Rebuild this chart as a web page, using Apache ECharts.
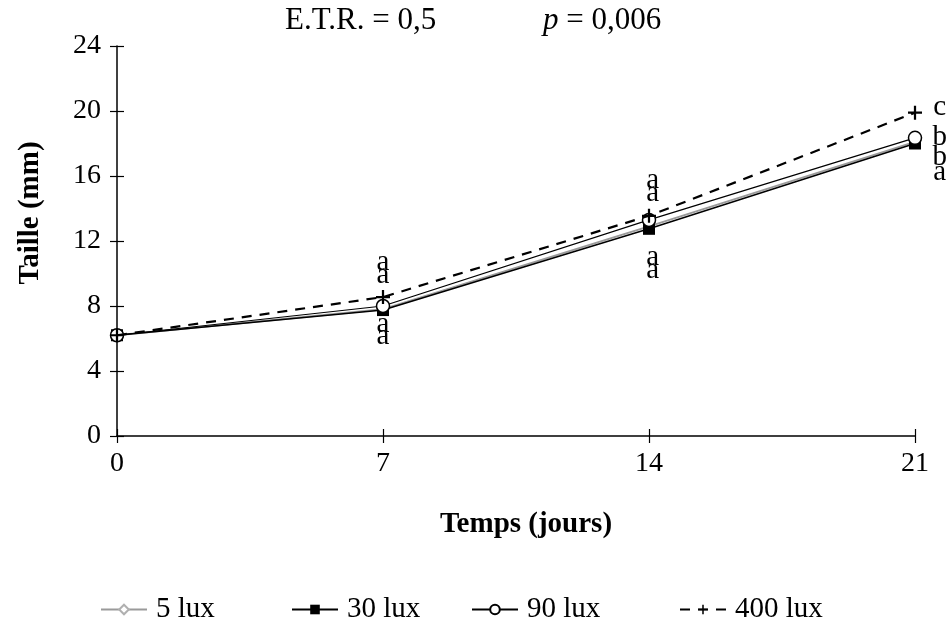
<!DOCTYPE html>
<html><head><meta charset="utf-8">
<script src="https://cdn.jsdelivr.net/npm/echarts@6/dist/echarts.min.js"></script>
<style>html,body{margin:0;padding:0;background:#fff}#c{width:950px;height:627px}</style>
</head><body><div id="c"></div>
<script>
const days = [0, 7, 14, 21];
const yTicks = [0, 4, 8, 12, 16, 20, 24];
const lux5 = [6.2, 7.8, 12.9, 18.1];
const lux30 = [6.2, 7.75, 12.75, 18.0];
const lux90 = [6.2, 8.0, 13.3, 18.35];
const lux400 = [6.2, 8.55, 13.55, 19.9];
// significance letters: [day, size, letter]
const letters = [
  [7, 10.7, 'a'], [7, 9.9, 'a'], [7, 6.85, 'a'], [7, 6.1, 'a'],
  [14.1, 15.75, 'a'], [14.1, 14.95, 'a'], [14.1, 11.0, 'a'], [14.1, 10.2, 'a'],
  [21.65, 20.25, 'c'], [21.65, 18.4, 'b'], [21.65, 17.15, 'b'], [21.65, 16.2, 'a']
];
const F = 'Liberation Serif';
const plus = 'path://M4.2,0H5.8V4.2H10V5.8H5.8V10H4.2V5.8H0V4.2H4.2Z';
const chart = echarts.init(document.getElementById('c'));
const pair = (a) => days.map((d, i) => [d, a[i]]);
function legendAt(name, left) {
  return {data: [name], left: left, top: 590, itemWidth: 46, itemHeight: 12, itemGap: 0,
    textStyle: {fontFamily: F, fontSize: 29, color: '#000', padding: [0, 0, 0, 4]}};
}
chart.setOption({
  animation: false,
  textStyle: {fontFamily: F},
  title: [
    {text: 'E.T.R. = 0,5', left: 280, top: 0, textStyle: {fontFamily: F, fontSize: 31, fontWeight: 'normal', color: '#000'}},
    {text: '{i|p} = 0,006', left: 538, top: 0, textStyle: {fontFamily: F, fontSize: 31, fontWeight: 'normal', color: '#000',
      rich: {i: {fontFamily: F, fontSize: 31, fontStyle: 'italic', color: '#000'}}}}
  ],
  legend: [legendAt('5 lux', 95), legendAt('30 lux', 286), legendAt('90 lux', 466), legendAt('400 lux', 674)],
  grid: {left: 117, right: 35, top: 46, bottom: 191},
  xAxis: [
    {type: 'value', min: 0, max: 21, interval: 7,
     name: 'Temps (jours)', nameLocation: 'middle', nameGap: 74,
     nameTextStyle: {fontFamily: F, fontSize: 29, fontWeight: 'bold', color: '#000', padding: [0, 0, 0, 20]},
     axisLine: {lineStyle: {color: '#000', width: 1.5}},
     axisTick: {inside: false, length: 7, lineStyle: {color: '#000', width: 1.2}},
     axisLabel: {fontFamily: F, fontSize: 28, color: '#000', margin: 14},
     splitLine: {show: false}},
    {type: 'value', min: 0, max: 21, interval: 7, position: 'bottom',
     axisLine: {show: false}, axisTick: {inside: true, length: 7, lineStyle: {color: '#000', width: 1.2}},
     axisLabel: {show: false}, splitLine: {show: false}}
  ],
  yAxis: [
    {type: 'value', min: 0, max: 24, interval: 4,
     name: 'Taille (mm)', nameLocation: 'middle', nameGap: 72, nameRotate: 90,
     nameTextStyle: {fontFamily: F, fontSize: 29, fontWeight: 'bold', color: '#000', padding: [0, 0, 0, 56]},
     axisLine: {show: true, lineStyle: {color: '#000', width: 1.5}},
     axisTick: {show: true, inside: false, length: 7, lineStyle: {color: '#000', width: 1.2}},
     axisLabel: {fontFamily: F, fontSize: 28, color: '#000', margin: 16},
     splitLine: {show: false}},
    {type: 'value', min: 0, max: 24, interval: 4, position: 'left',
     axisLine: {show: false}, axisTick: {show: true, inside: true, length: 7, lineStyle: {color: '#000', width: 1.2}},
     axisLabel: {show: false}, splitLine: {show: false}}
  ],
  series: [
    {name: '5 lux', type: 'line', data: pair(lux5), symbol: 'emptyDiamond', symbolSize: 8,
     lineStyle: {color: '#9a9a9a', width: 2}, itemStyle: {color: '#b0b0b0', borderColor: '#b0b0b0'}, z: 2},
    {name: '30 lux', type: 'line', data: pair(lux30), symbol: 'rect', symbolSize: 12,
     lineStyle: {color: '#000', width: 1.5}, itemStyle: {color: '#000'}, z: 3},
    {name: '90 lux', type: 'line', data: pair(lux90), symbol: 'circle', symbolSize: 13,
     lineStyle: {color: '#000', width: 1.2}, itemStyle: {color: '#fff', borderColor: '#000', borderWidth: 1.5}, z: 4},
    {name: '400 lux', type: 'line', data: pair(lux400), symbol: plus, symbolSize: 14,
     lineStyle: {color: '#000', width: 2.2, type: [10, 8]}, itemStyle: {color: '#000'}, z: 5},
    {name: 'letters', type: 'scatter', data: letters.map(l => ({value: [l[0], l[1]], name: l[2]})),
     symbolSize: 0, clip: false, silent: true, z: 6, itemStyle: {opacity: 1, color: '#000'},
     label: {show: true, position: 'inside', formatter: p => p.name, fontFamily: F, fontSize: 29,
       color: '#000', opacity: 1, textBorderWidth: 0}}
  ]
});
</script></body></html>
